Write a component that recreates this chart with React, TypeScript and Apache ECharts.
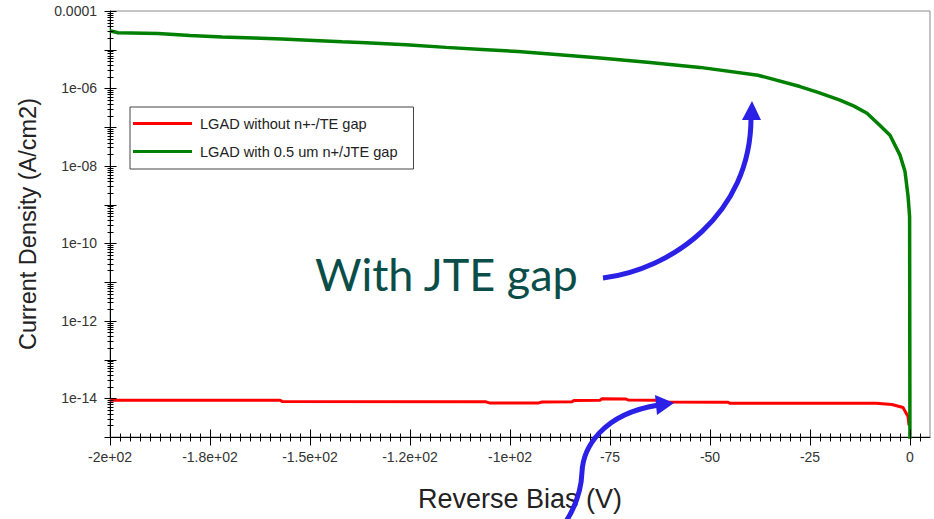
import React, { useEffect, useRef } from 'react';
import * as echarts from 'echarts';

// Reverse bias (V) and current density (A/cm2) for the two LGAD layouts
const biasNoGap = [-200, -157.5, -157, -106, -105, -93, -92, -84.5, -84, -77.5, -77, -71, -70.5, -62.5, -62, -45.5, -45, -8.5, -4.5, -1.75, -0.5, -0.25];
const densityNoGap = [8.9e-15, 8.9e-15, 8.3e-15, 8.1e-15, 7.5e-15, 7.5e-15, 8.0e-15, 8.1e-15, 8.8e-15, 8.9e-15, 9.7e-15, 9.6e-15, 9.0e-15, 8.9e-15, 8.0e-15, 7.9e-15, 7.4e-15, 7.4e-15, 6.9e-15, 5.8e-15, 3.4e-15, 2.0e-15];

const biasJteGap = [-200, -198, -188, -180, -172, -164, -157, -149, -142, -136, -126, -116, -107, -98, -90, -77.5, -65, -52.5, -38, -27.5, -23, -17.5, -14, -10.75, -7.5, -5, -2.5, -1.25, -0.5, -0.1, 0];
const densityJteGap = [3.1e-5, 2.75e-5, 2.64e-5, 2.34e-5, 2.12e-5, 2.0e-5, 1.88e-5, 1.74e-5, 1.6e-5, 1.51e-5, 1.34e-5, 1.15e-5, 1.02e-5, 9.0e-6, 7.8e-6, 6.1e-6, 4.7e-6, 3.5e-6, 2.2e-6, 1.12e-6, 7.9e-7, 5.0e-7, 3.5e-7, 2.3e-7, 1.1e-7, 6.2e-8, 1.9e-8, 7.2e-9, 1.7e-9, 5e-10, 1e-16];

const seriesNames = ['LGAD without n+-/TE gap', 'LGAD with 0.5 um n+/JTE gap'];
const seriesColors = ['#ff0000', '#008000'];

// Axis tick labels
const xTickValues = [-200, -175, -150, -125, -100, -75, -50, -25, 0];
const xTickLabels = ['-2e+02', '-1.8e+02', '-1.5e+02', '-1.2e+02', '-1e+02', '-75', '-50', '-25', '0'];
const yLabelExponents = [-4, -6, -8, -10, -12, -14];
const yTickLabels = ['0.0001', '1e-06', '1e-08', '1e-10', '1e-12', '1e-14'];

const X_MIN = -200;
const X_MAX = 5;
const Y_MIN = -15; // log10 of the axis bottom (1e-15)
const Y_MAX = -4;  // log10 of the axis top (1e-4)

const AXIS_FONT = "'Liberation Sans', Arial, sans-serif";
const ARROW_BLUE = '#2a20e6';

// Legend swatch: a 3px bar centred in a 59x14 box (the two dots pin the box size)
const LEGEND_BAR = 'path://M0,0L0.01,0L0.01,0.01Z M0,5.5L59,5.5L59,8.5L0,8.5Z M58.99,13.99L59,13.99L59,14Z';

// Tick marks that cross the axis lines: [x, log10(y), half length, direction]
function buildTickMarks(): number[][] {
  const marks: number[][] = [];
  for (let i = 0; X_MIN + i * 2.5 < X_MAX - 1e-9; i++) {
    marks.push([X_MIN + i * 2.5, Y_MIN, i % 10 === 0 ? 8 : 4, 0]);
  }
  for (let e = Y_MIN; e <= Y_MAX; e++) {
    marks.push([X_MIN, e, 6, 1]);
    if (e < Y_MAX) {
      for (let k = 2; k <= 9; k++) marks.push([X_MIN, e + Math.log10(k), 3, 1]);
    }
  }
  return marks;
}

function toPairs(xs: number[], ys: number[]) {
  return xs.map((x, i) => [x, Math.log10(ys[i])]);
}

export default function App() {
  const ref = useRef<HTMLDivElement>(null);

  useEffect(() => {
    if (!ref.current) return;
    const chart = echarts.init(ref.current, null, { renderer: 'svg' });

    const option: any = {
      animation: false,
      backgroundColor: '#ffffff',
      grid: {
        left: 110,
        right: 4,
        top: 11,
        bottom: 82,
        show: true,
        borderColor: '#8a8a8a',
        borderWidth: 1,
        backgroundColor: 'transparent',
      },
      legend: {
        orient: 'vertical',
        left: 130,
        top: 107,
        data: seriesNames.map((name) => ({ name, icon: LEGEND_BAR })),
        padding: [9, 16, 10, 3],
        itemWidth: 59,
        itemHeight: 14,
        itemGap: 13,
        borderColor: '#444',
        borderWidth: 1,
        backgroundColor: '#fff',
        textStyle: {
          fontFamily: AXIS_FONT,
          fontSize: 14.6,
          color: '#222',
          padding: [0, 0, 0, 3],
        },
      },
      xAxis: {
        type: 'value',
        min: X_MIN,
        max: X_MAX,
        interval: 25,
        name: 'Reverse Bias (V)',
        nameLocation: 'middle',
        nameGap: 48,
        nameTextStyle: { fontFamily: AXIS_FONT, fontSize: 27, color: '#222' },
        axisLine: { onZero: false, lineStyle: { color: '#000', width: 1 } },
        axisTick: { show: false },
        splitLine: { show: false },
        axisLabel: {
          margin: 13,
          fontFamily: AXIS_FONT,
          fontSize: 14,
          color: '#333',
          formatter: (v: number) => {
            const i = xTickValues.findIndex((t) => Math.abs(t - v) < 1e-6);
            return i >= 0 ? xTickLabels[i] : '';
          },
        },
      },
      yAxis: {
        type: 'value',
        min: Y_MIN,
        max: Y_MAX,
        interval: 1,
        name: 'Current Density (A/cm2)',
        nameLocation: 'middle',
        nameGap: 70,
        nameTextStyle: { fontFamily: AXIS_FONT, fontSize: 23.5, color: '#222' },
        axisLine: { onZero: false, lineStyle: { color: '#000', width: 1 } },
        axisTick: { show: false },
        splitLine: { show: false },
        axisLabel: {
          margin: 13,
          fontFamily: AXIS_FONT,
          fontSize: 14,
          color: '#333',
          formatter: (v: number) => {
            const i = yLabelExponents.findIndex((e) => Math.abs(e - v) < 1e-6);
            return i >= 0 ? yTickLabels[i] : '';
          },
        },
      },
      series: [
        {
          name: 'ticks',
          type: 'custom',
          silent: true,
          clip: false,
          z: 5,
          data: buildTickMarks(),
          renderItem: (_params: any, api: any) => {
            const x = api.value(0);
            const y = api.value(1);
            const len = api.value(2);
            const dir = api.value(3);
            const p = api.coord([x, y]);
            const cx = Math.round(p[0]) + 0.5;
            const cy = Math.round(p[1]) + 0.5;
            const shape = dir === 0
              ? { x1: cx, y1: cy - len, x2: cx, y2: cy + len }
              : { x1: cx - len, y1: cy, x2: cx + len, y2: cy };
            return { type: 'line', shape, style: { stroke: '#000', lineWidth: 1 } };
          },
        },
        {
          name: seriesNames[0],
          type: 'line',
          data: toPairs(biasNoGap, densityNoGap),
          symbol: 'none',
          color: seriesColors[0],
          lineStyle: { color: seriesColors[0], width: 3 },
          z: 3,
        },
        {
          name: seriesNames[1],
          type: 'line',
          data: toPairs(biasJteGap, densityJteGap),
          symbol: 'none',
          color: seriesColors[1],
          lineStyle: { color: seriesColors[1], width: 3.5 },
          z: 4,
        },
      ],
      graphic: [
        {
          type: 'text',
          x: 315,
          y: 274,
          z: 100,
          style: {
            text: 'With JTE gap',
            fontFamily: 'Lato, sans-serif',
            fontSize: 45,
            fill: '#0b4e49',
            verticalAlign: 'middle',
          },
        },
        {
          type: 'bezierCurve',
          z: 100,
          shape: { x1: 603, y1: 278, cpx1: 670, cpy1: 270, cpx2: 751, cpy2: 215, x2: 751, y2: 118 },
          style: { stroke: ARROW_BLUE, lineWidth: 5, fill: 'none' },
        },
        {
          type: 'polygon',
          z: 100,
          shape: { points: [[752, 101], [742, 120], [761, 120]] },
          style: { fill: ARROW_BLUE },
        },
        {
          type: 'bezierCurve',
          z: 100,
          shape: { x1: 563, y1: 526, cpx1: 581, cpy1: 500, x2: 582, y2: 472 },
          style: { stroke: ARROW_BLUE, lineWidth: 5, fill: 'none' },
        },
        {
          type: 'bezierCurve',
          z: 100,
          shape: { x1: 582, y1: 472, cpx1: 583, cpy1: 450, cpx2: 600, cpy2: 414, x2: 659, y2: 405 },
          style: { stroke: ARROW_BLUE, lineWidth: 5, fill: 'none' },
        },
        {
          type: 'polygon',
          z: 100,
          shape: { points: [[674, 403], [655, 395], [657, 415]] },
          style: { fill: ARROW_BLUE },
        },
      ],
    };

    chart.setOption(option);
    return () => chart.dispose();
  }, []);

  return (
    <div
      ref={ref}
      style={{ position: 'fixed', left: 0, top: 0, width: 934, height: 519, background: '#fff' }}
    />
  );
}
